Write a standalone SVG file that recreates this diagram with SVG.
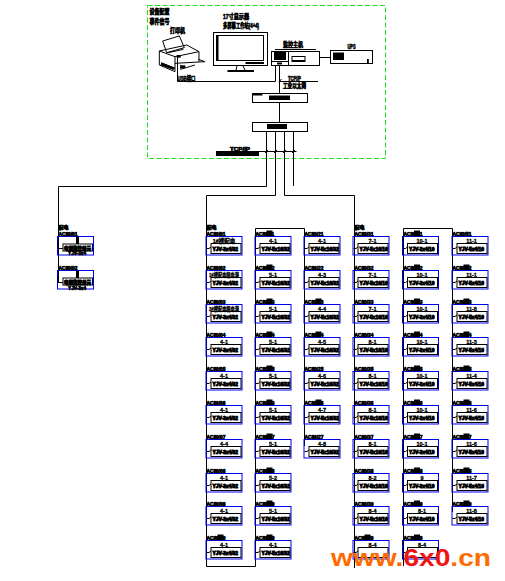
<svg xmlns="http://www.w3.org/2000/svg" width="505" height="581" viewBox="0 0 505 581">
<style>
text{font-family:"Liberation Sans","Noto Sans CJK SC",sans-serif;font-weight:bold;fill:#000;stroke:#000}
.l{font-size:4.8px;stroke-width:.65}
.t{font-size:5.5px;stroke-width:.3;text-anchor:middle}
.c{font-size:4.9px;stroke-width:.85}
.h{font-size:6.5px;stroke-width:.6}
.w{fill:none;stroke:#000;stroke-width:1}
.k{fill:#000;stroke:none}
.z{fill:none;stroke:#000;stroke-width:3}
.b{fill:none;stroke:#0000f0;stroke-width:1}
.m{font-family:"Liberation Sans",sans-serif;font-size:24px;stroke:none}
</style>
<defs>
<g id="box">
<rect class="b" x="0.5" y="0.5" width="36" height="18.5"/>
<rect class="w" x="5.5" y="7.5" width="30" height="10"/>
<path class="w" d="M1 12.500H3.500L5.500 11"/>
</g>
<g id="boxb">
<use href="#box"/>
<rect class="k" x="12" y="-5.500" width="6" height="5.500"/>
</g>
<g id="lbox">
<rect class="b" x="0.5" y="0.5" width="36" height="18.5"/>
<rect class="w" x="6" y="8" width="29.500" height="7"/>
<rect class="k" x="19" y="0.5" width="3" height="7.500"/>
<path class="w" d="M1 6V12.500H6"/>
</g>
</defs>

<rect id="boundary" x="147.500" y="5.500" width="238" height="153" fill="none" stroke="#1fe01f" stroke-width="1" stroke-dasharray="5 2.500"/>

<g id="connectors" fill="none" stroke="#000" stroke-width="1">
<path d="M266.500 132V186.500H58.500V283"/>
<path d="M275.500 132V195.500H206.500V566.500H255.500V228.500H304.500V446"/>
<path d="M284.500 132V195.500H354.500V568"/>
<path d="M293.500 132V186"/>
<path d="M403.500 566V228.500H452.500V512"/>
<path d="M177.500 57V81.500H275.500V66"/>
<path d="M319.500 57.500H330.500"/>
<path d="M279.500 66V93M279.500 102.500V122.500"/>
<path d="M279.500 81.500H318"/>
<path d="M216 151.500H296.500"/>
<path d="M281.500 79L279 82M265 153L268 150M274 153L277 150M283 153L286 150M292 153L295 150"/>
</g>

<g id="printer" transform="translate(140,0) scale(.3333)">
<path class="z" d="M68 123L118 108L133 143L80 158ZM58 153L140 135L177 155V185M58 153V195L105 215V170L58 153M105 170L177 155M105 190L195 185L175 178M122 195V208L165 195M64 188L105 205M85 158L130 148"/>
<rect class="k" x="110" y="165" width="12" height="8"/>
<rect class="k" x="64" y="188" width="42" height="8" transform="rotate(20 64 188)"/>
<rect class="k" x="122" y="196" width="14" height="8"/>
</g>
<text class="h" x="170" y="33" textLength="15" lengthAdjust="spacingAndGlyphs">打印机</text>
<text class="h" x="149.500" y="14" textLength="20" lengthAdjust="spacingAndGlyphs">设备配置</text>
<text class="h" x="149.500" y="24" textLength="20" lengthAdjust="spacingAndGlyphs">事件信号</text>
<text class="h" x="177.500" y="81" textLength="18" lengthAdjust="spacingAndGlyphs">USB接口</text>

<g id="monitor">
<rect class="w" x="213.500" y="32.500" width="54" height="33" fill="#fff"/>
<rect class="w" x="216.500" y="35.500" width="47" height="25"/>
<rect class="k" x="216" y="35" width="2.500" height="26"/>
<rect class="k" x="245.500" y="62" width="18.500" height="2"/>
<path class="w" d="M237 66L236 70M243 66L245 70"/>
<rect class="k" x="227.500" y="70" width="26.500" height="2"/>
<text class="h" x="223" y="19" textLength="26" lengthAdjust="spacingAndGlyphs">17寸显示器</text>
<text class="h" x="223" y="27.500" textLength="36" lengthAdjust="spacingAndGlyphs">多屏幕工作站(4+4)</text>
</g>

<g id="host">
<rect class="w" x="271.500" y="51.500" width="48" height="14"/>
<path class="w" d="M275 49.500H316M288.500 51.500V65.500M271.500 61.500H288.500"/>
<rect class="k" x="274" y="52" width="12" height="8"/>
<rect class="k" x="277" y="62.500" width="5" height="2"/>
<rect class="w" x="292" y="56.500" width="13" height="5"/>
<rect class="k" x="292" y="60" width="13" height="1.800"/>
<text class="h" x="283" y="47" textLength="20" lengthAdjust="spacingAndGlyphs">监控主机</text>
</g>

<g id="ups">
<rect class="w" x="330.500" y="50.500" width="42" height="13"/>
<rect class="k" x="333" y="52.500" width="11" height="7.500"/>
<rect class="k" x="367" y="59" width="1.800" height="4.500"/>
<text class="h" x="347.500" y="48.500" textLength="8" lengthAdjust="spacingAndGlyphs">UPS</text>
</g>
<text class="h" x="288" y="81" textLength="13" lengthAdjust="spacingAndGlyphs">TCP/IP</text>
<text class="h" x="283" y="88" textLength="23" lengthAdjust="spacingAndGlyphs">工业以太网</text>

<g id="device1">
<rect class="w" x="252.500" y="93.500" width="55" height="9"/>
<rect class="k" x="252.500" y="93.500" width="10" height="2"/>
<rect class="k" x="269" y="95.500" width="21" height="4.500"/>
</g>
<g id="device2">
<rect class="w" x="252.500" y="122.500" width="55" height="9"/>
<rect class="k" x="267" y="124" width="20" height="5"/>
</g>
<g id="bar">
<rect class="k" x="216" y="151" width="43" height="5"/>
<text class="h" x="230" y="150.500" textLength="20" lengthAdjust="spacingAndGlyphs" style="font-size:5px">TCP/IP</text>
</g>

<g id="L1" transform="translate(57,236)"><use href="#lbox"/><text class="l" x="1.500" y="-7" textLength="10" lengthAdjust="spacingAndGlyphs">配电</text><text class="l" x="1.500" y="-.5">AC80/01</text><text class="c" x="7" y="13.500" textLength="27" lengthAdjust="spacingAndGlyphs">电源监控单元</text><text class="l" x="11" y="18.500" textLength="18" lengthAdjust="spacingAndGlyphs">YJV-3x4</text></g>
<g id="L2" transform="translate(57,270)"><use href="#lbox"/><text class="l" x="1.500" y="-.5">AC80/02</text><text class="c" x="7" y="13.500" textLength="27" lengthAdjust="spacingAndGlyphs">电源监控单元</text><text class="l" x="11" y="19.500" textLength="18" lengthAdjust="spacingAndGlyphs">YJV-3x4</text></g>

<g id="A1" transform="translate(205.500,236)"><use href="#box"/><text class="l" x="1" y="-7" textLength="10" lengthAdjust="spacingAndGlyphs">配电</text><text class="l" x="1" y="-.5">AC80/01</text><text class="t" x="18.500" y="6.500">1#楼配电</text><text class="c" x="7" y="14.500">YJV-3x4/32</text></g>
<g id="A2" transform="translate(205.500,270)"><use href="#box"/><text class="l" x="1" y="-.5">AC80/02</text><text class="t" x="18.500" y="6.500" textLength="30" lengthAdjust="spacingAndGlyphs">1#楼配电箱电源</text><text class="c" x="7" y="14.500">YJV-3x4/32</text></g>
<g id="A3" transform="translate(205.500,304)"><use href="#box"/><text class="l" x="1" y="-.5">AC80/03</text><text class="t" x="18.500" y="6.500" textLength="30" lengthAdjust="spacingAndGlyphs">2#楼配电箱电源</text><text class="c" x="7" y="14.500">YJV-3x4/32</text></g>
<g id="A4" transform="translate(205.500,337)"><use href="#box"/><text class="l" x="1" y="-.5">AC80/04</text><text class="t" x="18.500" y="6.500">4-1</text><text class="c" x="7" y="14.500">YJV-3x4/32</text></g>
<g id="A5" transform="translate(205.500,371)"><use href="#box"/><text class="l" x="1" y="-.5">AC80/05</text><text class="t" x="18.500" y="6.500">4-1</text><text class="c" x="7" y="14.500">YJV-3x4/32</text></g>
<g id="A6" transform="translate(205.500,405)"><use href="#box"/><text class="l" x="1" y="-.5">AC80/06</text><text class="t" x="18.500" y="6.500">4-1</text><text class="c" x="7" y="14.500">YJV-3x4/32</text></g>
<g id="A7" transform="translate(205.500,439)"><use href="#box"/><text class="l" x="1" y="-.5">AC80/07</text><text class="t" x="18.500" y="6.500">4-4</text><text class="c" x="7" y="14.500">YJV-3x4/32</text></g>
<g id="A8" transform="translate(205.500,473)"><use href="#box"/><text class="l" x="1" y="-.5">AC80/08</text><text class="t" x="18.500" y="6.500">4-1</text><text class="c" x="7" y="14.500">YJV-3x4/32</text></g>
<g id="A9" transform="translate(205.500,506)"><use href="#box"/><text class="l" x="1" y="-.5">AC80/09</text><text class="t" x="18.500" y="6.500">4-1</text><text class="c" x="7" y="14.500">YJV-3x4/32</text></g>
<g id="A10" transform="translate(205.500,540)"><use href="#boxb"/><text class="l" x="1" y="-.5">AC80/10</text><text class="t" x="18.500" y="6.500">4-1</text><text class="c" x="7" y="14.500">YJV-3x4/32</text></g>

<g id="B1" transform="translate(254.500,236)"><use href="#boxb"/><text class="l" x="1" y="-.5">AC80/11</text><text class="t" x="18.500" y="6.500">4-1</text><text class="c" x="7" y="14.500">YJV-5x16/32</text></g>
<g id="B2" transform="translate(254.500,270)"><use href="#boxb"/><text class="l" x="1" y="-.5">AC80/12</text><text class="t" x="18.500" y="6.500">5-1</text><text class="c" x="7" y="14.500">YJV-5x16/32</text></g>
<g id="B3" transform="translate(254.500,304)"><use href="#boxb"/><text class="l" x="1" y="-.5">AC80/13</text><text class="t" x="18.500" y="6.500">5-1</text><text class="c" x="7" y="14.500">YJV-5x16/32</text></g>
<g id="B4" transform="translate(254.500,337)"><use href="#boxb"/><text class="l" x="1" y="-.5">AC80/14</text><text class="t" x="18.500" y="6.500">5-1</text><text class="c" x="7" y="14.500">YJV-5x16/32</text></g>
<g id="B5" transform="translate(254.500,371)"><use href="#boxb"/><text class="l" x="1" y="-.5">AC80/15</text><text class="t" x="18.500" y="6.500">5-1</text><text class="c" x="7" y="14.500">YJV-5x16/32</text></g>
<g id="B6" transform="translate(254.500,405)"><use href="#boxb"/><text class="l" x="1" y="-.5">AC80/16</text><text class="t" x="18.500" y="6.500">5-1</text><text class="c" x="7" y="14.500">YJV-5x16/32</text></g>
<g id="B7" transform="translate(254.500,439)"><use href="#boxb"/><text class="l" x="1" y="-.5">AC80/17</text><text class="t" x="18.500" y="6.500">5-1</text><text class="c" x="7" y="14.500">YJV-5x16/32</text></g>
<g id="B8" transform="translate(254.500,473)"><use href="#boxb"/><text class="l" x="1" y="-.5">AC80/18</text><text class="t" x="18.500" y="6.500">5-2</text><text class="c" x="7" y="14.500">YJV-5x16/32</text></g>
<g id="B9" transform="translate(254.500,506)"><use href="#boxb"/><text class="l" x="1" y="-.5">AC80/19</text><text class="t" x="18.500" y="6.500">5-1</text><text class="c" x="7" y="14.500">YJV-5x16/32</text></g>
<g id="B10" transform="translate(254.500,540)"><use href="#boxb"/><text class="l" x="1" y="-.5">AC80/20</text><text class="t" x="18.500" y="6.500">4-1</text><text class="c" x="7" y="14.500">YJV-5x16/32</text></g>

<g id="C1" transform="translate(303.500,236)"><use href="#box"/><text class="l" x="1" y="-.5">AC80/21</text><text class="t" x="18.500" y="6.500">4-1</text><text class="c" x="7" y="14.500">YJV-5x16/32</text></g>
<g id="C2" transform="translate(303.500,270)"><use href="#box"/><text class="l" x="1" y="-.5">AC80/22</text><text class="t" x="18.500" y="6.500">4-3</text><text class="c" x="7" y="14.500">YJV-5x16/32</text></g>
<g id="C3" transform="translate(303.500,304)"><use href="#boxb"/><text class="l" x="1" y="-.5">AC80/23</text><text class="t" x="18.500" y="6.500">4-4</text><text class="c" x="7" y="14.500">YJV-5x16/32</text></g>
<g id="C4" transform="translate(303.500,337)"><use href="#boxb"/><text class="l" x="1" y="-.5">AC80/24</text><text class="t" x="18.500" y="6.500">4-5</text><text class="c" x="7" y="14.500">YJV-5x16/32</text></g>
<g id="C5" transform="translate(303.500,371)"><use href="#box"/><text class="l" x="1" y="-.5">AC80/25</text><text class="t" x="18.500" y="6.500">4-6</text><text class="c" x="7" y="14.500">YJV-5x16/32</text></g>
<g id="C6" transform="translate(303.500,405)"><use href="#boxb"/><text class="l" x="1" y="-.5">AC80/26</text><text class="t" x="18.500" y="6.500">4-7</text><text class="c" x="7" y="14.500">YJV-5x16/32</text></g>
<g id="C7" transform="translate(303.500,439)"><use href="#box"/><text class="l" x="1" y="-.5">AC80/27</text><text class="t" x="18.500" y="6.500">4-8</text><text class="c" x="7" y="14.500">YJV-5x16/32</text></g>

<g id="D1" transform="translate(352.500,236)"><use href="#box"/><text class="l" x="2" y="-7" textLength="10" lengthAdjust="spacingAndGlyphs">配电</text><text class="l" x="2" y="-.5">AC80/31</text><text class="t" x="20" y="6.500">7-1</text><text class="c" x="7" y="14.500">YJV-5x16/10</text></g>
<g id="D2" transform="translate(352.500,270)"><use href="#box"/><text class="l" x="2" y="-.5">AC80/32</text><text class="t" x="20" y="6.500">7-1</text><text class="c" x="7" y="14.500">YJV-5x16/10</text></g>
<g id="D3" transform="translate(352.500,304)"><use href="#box"/><text class="l" x="2" y="-.5">AC80/33</text><text class="t" x="20" y="6.500">7-1</text><text class="c" x="7" y="14.500">YJV-5x16/10</text></g>
<g id="D4" transform="translate(352.500,337)"><use href="#box"/><text class="l" x="2" y="-.5">AC80/34</text><text class="t" x="20" y="6.500">8-1</text><text class="c" x="7" y="14.500">YJV-5x16/10</text></g>
<g id="D5" transform="translate(352.500,371)"><use href="#box"/><text class="l" x="2" y="-.5">AC80/35</text><text class="t" x="20" y="6.500">8-1</text><text class="c" x="7" y="14.500">YJV-5x16/10</text></g>
<g id="D6" transform="translate(352.500,405)"><use href="#box"/><text class="l" x="2" y="-.5">AC80/36</text><text class="t" x="20" y="6.500">8-1</text><text class="c" x="7" y="14.500">YJV-5x16/10</text></g>
<g id="D7" transform="translate(352.500,439)"><use href="#box"/><text class="l" x="2" y="-.5">AC80/37</text><text class="t" x="20" y="6.500">8-1</text><text class="c" x="7" y="14.500">YJV-5x16/10</text></g>
<g id="D8" transform="translate(352.500,473)"><use href="#box"/><text class="l" x="2" y="-.5">AC80/38</text><text class="t" x="20" y="6.500">8-2</text><text class="c" x="7" y="14.500">YJV-5x16/10</text></g>
<g id="D9" transform="translate(352.500,506)"><use href="#box"/><text class="l" x="2" y="-.5">AC80/39</text><text class="t" x="20" y="6.500">8-4</text><text class="c" x="7" y="14.500">YJV-5x16/10</text></g>
<g id="D10" transform="translate(352.500,540)"><use href="#boxb"/><text class="l" x="2" y="-.5">AC80/40</text><text class="t" x="20" y="6.500">8-4</text></g>

<g id="E1" transform="translate(402,236)"><use href="#boxb"/><text class="l" x="1.500" y="-.5">AC80/41</text><text class="t" x="20" y="6.500">10-1</text><text class="c" x="7" y="14.500">YJV-3x4/10</text></g>
<g id="E2" transform="translate(402,270)"><use href="#boxb"/><text class="l" x="1.500" y="-.5">AC80/42</text><text class="t" x="20" y="6.500">10-1</text><text class="c" x="7" y="14.500">YJV-3x4/10</text></g>
<g id="E3" transform="translate(402,304)"><use href="#boxb"/><text class="l" x="1.500" y="-.5">AC80/43</text><text class="t" x="20" y="6.500">10-1</text><text class="c" x="7" y="14.500">YJV-3x4/10</text></g>
<g id="E4" transform="translate(402,337)"><use href="#boxb"/><text class="l" x="1.500" y="-.5">AC80/44</text><text class="t" x="20" y="6.500">10-1</text><text class="c" x="7" y="14.500">YJV-3x4/10</text></g>
<g id="E5" transform="translate(402,371)"><use href="#boxb"/><text class="l" x="1.500" y="-.5">AC80/45</text><text class="t" x="20" y="6.500">10-1</text><text class="c" x="7" y="14.500">YJV-3x4/10</text></g>
<g id="E6" transform="translate(402,405)"><use href="#boxb"/><text class="l" x="1.500" y="-.5">AC80/46</text><text class="t" x="20" y="6.500">10-1</text><text class="c" x="7" y="14.500">YJV-3x4/10</text></g>
<g id="E7" transform="translate(402,439)"><use href="#boxb"/><text class="l" x="1.500" y="-.5">AC80/47</text><text class="t" x="20" y="6.500">10-1</text><text class="c" x="7" y="14.500">YJV-3x4/10</text></g>
<g id="E8" transform="translate(402,473)"><use href="#boxb"/><text class="l" x="1.500" y="-.5">AC80/48</text><text class="t" x="20" y="6.500">9</text><text class="c" x="7" y="14.500">YJV-3x4/10</text></g>
<g id="E9" transform="translate(402,506)"><use href="#boxb"/><text class="l" x="1.500" y="-.5">AC80/49</text><text class="t" x="20" y="6.500">8-1</text><text class="c" x="7" y="14.500">YJV-3x4/10</text></g>
<g id="E10" transform="translate(402,540)"><use href="#boxb"/><text class="l" x="1.500" y="-.5">AC80/50</text><text class="t" x="20" y="6.500">8-4</text></g>

<g id="F1" transform="translate(451.500,236)"><use href="#box"/><text class="l" x="1" y="-.5">AC80/51</text><text class="t" x="20" y="6.500">11-1</text><text class="c" x="7" y="14.500">YJV-5x4/10</text></g>
<g id="F2" transform="translate(451.500,270)"><use href="#boxb"/><text class="l" x="1" y="-.5">AC80/52</text><text class="t" x="20" y="6.500">11-1</text><text class="c" x="7" y="14.500">YJV-5x4/10</text></g>
<g id="F3" transform="translate(451.500,304)"><use href="#boxb"/><text class="l" x="1" y="-.5">AC80/53</text><text class="t" x="20" y="6.500">11-8</text><text class="c" x="7" y="14.500">YJV-5x4/10</text></g>
<g id="F4" transform="translate(451.500,337)"><use href="#boxb"/><text class="l" x="1" y="-.5">AC80/54</text><text class="t" x="20" y="6.500">11-3</text><text class="c" x="7" y="14.500">YJV-5x4/10</text></g>
<g id="F5" transform="translate(451.500,371)"><use href="#boxb"/><text class="l" x="1" y="-.5">AC80/55</text><text class="t" x="20" y="6.500">11-4</text><text class="c" x="7" y="14.500">YJV-5x4/10</text></g>
<g id="F6" transform="translate(451.500,405)"><use href="#boxb"/><text class="l" x="1" y="-.5">AC80/56</text><text class="t" x="20" y="6.500">11-6</text><text class="c" x="7" y="14.500">YJV-5x4/10</text></g>
<g id="F7" transform="translate(451.500,439)"><use href="#boxb"/><text class="l" x="1" y="-.5">AC80/57</text><text class="t" x="20" y="6.500">11-6</text><text class="c" x="7" y="14.500">YJV-5x4/10</text></g>
<g id="F8" transform="translate(451.500,473)"><use href="#boxb"/><text class="l" x="1" y="-.5">AC80/58</text><text class="t" x="20" y="6.500">11-7</text><text class="c" x="7" y="14.500">YJV-5x4/10</text></g>
<g id="F9" transform="translate(451.500,506)"><use href="#boxb"/><text class="l" x="1" y="-.5">AC80/59</text><text class="t" x="20" y="6.500">11-8</text><text class="c" x="7" y="14.500">YJV-5x4/10</text></g>

<text id="watermark" class="m" x="331" y="565.500" textLength="160" lengthAdjust="spacingAndGlyphs" style="fill:#ff6a00">www.<tspan style="fill:#f01414">6x0</tspan>.cn</text>
</svg>
